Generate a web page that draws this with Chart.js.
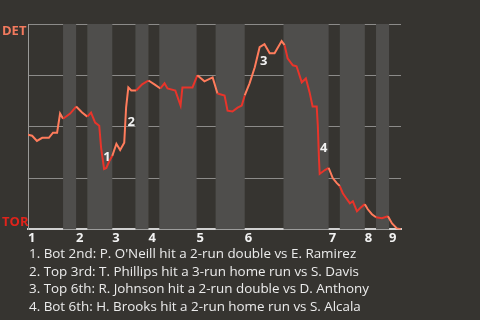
<!DOCTYPE html>
<html lang="en">
<head>
    <meta charset="UTF-8">
    <title>DET @ TOR win probability</title>
    <script src="https://cdnjs.cloudflare.com/ajax/libs/Chart.js/4.4.0/chart.umd.js"></script>
    <style>
        html, body { margin: 0; padding: 0; background: #363430; }
        #wrap { position: relative; width: 480px; height: 320px; overflow: hidden; }
        #box { position: absolute; left: 0; top: 0; width: 480px; height: 249px; }
        #notes { position: absolute; left: 29px; top: 245px; color: #ececec; font: 13.4px "Open Sans", sans-serif; line-height: 17.7px; }
    </style>
</head>
<body>
<div id="wrap">
    <div id="box"><canvas id="chart"></canvas></div>
    <div id="notes"></div>
</div>
<script>
// game progress (0-100) and DET win probability
const progress = [0, 1.1, 2.4, 3.8, 5.6, 6.7, 7.8, 8.6, 9.4, 11.3, 12.9, 14.5, 15.9, 16.9, 18.0, 19.1, 19.6, 20.4, 21.0, 21.8,
    22.6, 23.7, 24.7, 25.8, 26.3, 26.9, 27.7, 29.0, 30.6, 32.3, 33.9, 35.5, 36.6, 37.4, 39.5, 40.9, 41.4, 44.1, 45.4, 47.3,
    49.5, 50.8, 52.7, 53.5, 54.8, 56.2, 57.3, 58.1, 59.4, 60.8, 62.1, 63.4, 64.8, 66.1, 68.0, 68.8, 69.6, 71.0, 72.0, 73.4,
    74.5, 75.5, 76.3, 77.4, 77.7, 78.0, 78.2, 79.6, 80.6, 81.7, 82.8, 83.6, 84.4, 85.5, 86.3, 87.1, 88.2, 89.0, 90.3, 91.1,
    92.2, 93.3, 94.9, 96.5, 97.6, 98.9, 100];
const winProb = [0.461, 0.456, 0.431, 0.446, 0.446, 0.471, 0.471, 0.564, 0.539, 0.564, 0.598, 0.569, 0.549, 0.569, 0.520, 0.505, 0.397, 0.294, 0.299, 0.333,
    0.358, 0.417, 0.387, 0.422, 0.593, 0.691, 0.676, 0.676, 0.706, 0.725, 0.706, 0.686, 0.711, 0.686, 0.676, 0.603, 0.691, 0.691, 0.750, 0.721,
    0.740, 0.662, 0.652, 0.578, 0.574, 0.593, 0.603, 0.652, 0.711, 0.789, 0.887, 0.902, 0.858, 0.858, 0.917, 0.897, 0.833, 0.799, 0.794, 0.716,
    0.735, 0.667, 0.598, 0.598, 0.505, 0.348, 0.270, 0.289, 0.299, 0.250, 0.225, 0.211, 0.176, 0.147, 0.127, 0.137, 0.088, 0.103, 0.123, 0.098,
    0.074, 0.059, 0.054, 0.064, 0.029, 0.005, 0];

// start of each half inning (top 1st, bot 1st, top 2nd, ...)
const halfStarts = [0, 9.4, 12.9, 15.9, 22.6, 28.8, 32.3, 35.2, 45.2, 50.3, 58.1, 68.5, 80.6, 83.6, 90.3, 93.3, 96.8];
const innings = ['1', '2', '3', '4', '5', '6', '7', '8', '9'];

const noteLabels = ['1', '2', '3', '4'];
const noteX = [21.2, 27.7, 63.2, 79.3];
const noteY = [0.353, 0.520, 0.819, 0.397];
const noteText = [
    "1. Bot 2nd: P. O'Neill hit a 2-run double vs E. Ramirez",
    "2. Top 3rd: T. Phillips hit a 3-run home run vs S. Davis",
    "3. Top 6th: R. Johnson hit a 2-run double vs D. Anthony",
    "4. Bot 6th: H. Brooks hit a 2-run home run vs S. Alcala"
];

const ORANGE = '#ff7c5c', RED = '#e8342a';

function halfIndex(x) {
    let i = 0;
    while (i + 1 < halfStarts.length && x >= halfStarts[i + 1]) i++;
    return i;
}

const bands = {
    id: 'bands',
    beforeDatasetsDraw(chart) {
        const { ctx, chartArea: a, scales: { x } } = chart;
        ctx.save();
        ctx.fillStyle = '#4f4e4c';
        for (let i = 1; i < halfStarts.length; i += 2) {
            const x0 = x.getPixelForValue(halfStarts[i]);
            const x1 = x.getPixelForValue(i + 1 < halfStarts.length ? halfStarts[i + 1] : 100);
            ctx.fillRect(x0, a.top, x1 - x0, a.bottom - a.top);
        }
        ctx.restore();
    }
};

const labels = {
    id: 'labels',
    afterDatasetsDraw(chart) {
        const { ctx, scales: { x, y } } = chart;
        ctx.save();
        ctx.font = 'bold 13px "Open Sans", sans-serif';
        ctx.textAlign = 'center';
        ctx.textBaseline = 'middle';
        ctx.fillStyle = '#f2f2f2';
        noteLabels.forEach((t, i) => ctx.fillText(t, x.getPixelForValue(noteX[i]), y.getPixelForValue(noteY[i])));
        ctx.textAlign = 'left';
        ctx.fillStyle = '#f27a5e';
        ctx.fillText('DET', 2, y.getPixelForValue(1) + 7);
        ctx.fillStyle = '#e0231b';
        ctx.fillText('TOR', 2, y.getPixelForValue(0) - 7);
        ctx.restore();
    }
};

document.getElementById('notes').innerHTML = noteText.map(t => '<div>' + t.replace(/&/g, '&amp;').replace(/</g, '&lt;') + '</div>').join('');

new Chart(document.getElementById('chart'), {
    type: 'line',
    data: {
        datasets: [{
            data: progress.map((p, i) => ({ x: p, y: winProb[i] })),
            borderColor: ORANGE,
            borderWidth: 2,
            pointRadius: 0,
            tension: 0,
            segment: {
                borderColor: c => halfIndex((c.p0.parsed.x + c.p1.parsed.x) / 2) % 2 === 0 ? ORANGE : RED
            }
        }]
    },
    options: {
        responsive: true,
        maintainAspectRatio: false,
        animation: false,
        layout: { padding: { left: 28, right: 79, top: 24, bottom: 2 } },
        plugins: { legend: { display: false }, tooltip: { enabled: false } },
        scales: {
            x: {
                type: 'linear',
                min: 0,
                max: 100,
                afterBuildTicks: s => { s.ticks = halfStarts.filter((v, i) => i % 2 === 0).map(v => ({ value: v })); },
                grid: { display: false, drawTicks: false },
                border: { color: '#d0d0d0', width: 2 },
                ticks: {
                    autoSkip: false,
                    maxRotation: 0,
                    align: 'start',
                    padding: 1,
                    color: '#f2f2f2',
                    font: { family: 'Open Sans', size: 13, weight: 'bold' },
                    callback: (v, i) => innings[i]
                }
            },
            y: {
                min: 0,
                max: 1,
                afterBuildTicks: s => { s.ticks = [0, 0.25, 0.5, 0.75, 1].map(v => ({ value: v })); },
                grid: { color: '#8c8b89', drawTicks: false },
                border: { color: '#9a9a98', width: 1 },
                ticks: { display: false }
            }
        }
    },
    plugins: [bands, labels]
});
</script>
</body>
</html>
